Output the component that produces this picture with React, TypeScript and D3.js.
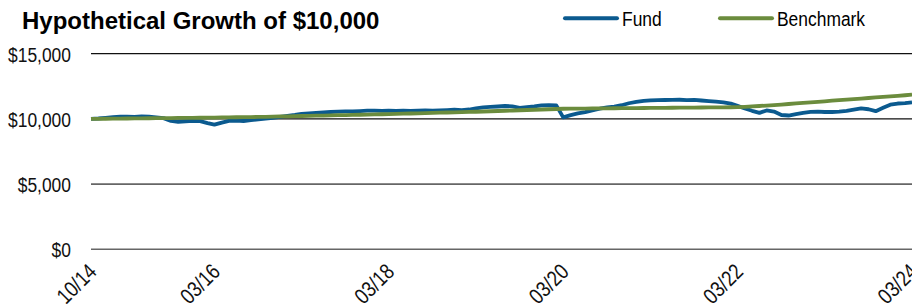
import React from 'react';
import * as d3 from 'd3';

// monthly, 10/14 .. 03/24
const startMonth = new Date(2014, 9, 1);
const endMonth = new Date(2024, 2, 1);

const fund = [
  10000, 10030, 10080, 10130, 10180, 10170, 10160, 10190, 10170, 10120,
  10060, 9850, 9780, 9820, 9850, 9830, 9680, 9560, 9720, 9850,
  9870, 9840, 9900, 9960, 10020, 10080, 10150, 10230, 10300, 10380,
  10420, 10460, 10500, 10530, 10560, 10580, 10570, 10600, 10630, 10640,
  10620, 10640, 10620, 10630, 10610, 10640, 10650, 10630, 10660, 10680,
  10700, 10680, 10720, 10800, 10880, 10920, 10950, 10990, 10960, 10850,
  10900, 10960, 11040, 11060, 11040, 10120, 10290, 10420, 10520, 10650,
  10780, 10880, 10950, 11050, 11200, 11300, 11380, 11420, 11440, 11450,
  11460, 11470, 11440, 11460, 11410, 11360, 11320, 11270, 11170, 11000,
  10800, 10620, 10460, 10650, 10560, 10300, 10260, 10370, 10460, 10540,
  10560, 10530, 10530, 10560, 10620, 10720, 10810, 10740, 10590, 10850,
  11090, 11180, 11210, 11270,
];

const benchmark = [
  10000, 10006, 10012, 10018, 10024, 10030, 10036, 10042, 10048, 10054,
  10060, 10066, 10072, 10078, 10084, 10090, 10097, 10104, 10111, 10118,
  10126, 10134, 10142, 10150, 10162, 10174, 10186, 10198, 10210, 10222,
  10234, 10246, 10258, 10270, 10282, 10294, 10306, 10318, 10330, 10343,
  10356, 10370, 10385, 10400, 10415, 10430, 10445, 10460, 10475, 10490,
  10505, 10520, 10535, 10550, 10569, 10588, 10607, 10626, 10645, 10664,
  10683, 10702, 10721, 10740, 10760, 10780, 10785, 10790, 10795, 10800,
  10805, 10810, 10815, 10820, 10825, 10830, 10835, 10840, 10845, 10850,
  10855, 10860, 10865, 10870, 10875, 10880, 10885, 10890, 10895, 10900,
  10925, 10955, 10990, 11025, 11060, 11100, 11142, 11184, 11226, 11268,
  11310, 11352, 11394, 11436, 11478, 11520, 11562, 11604, 11646, 11688,
  11730, 11772, 11814, 11856,
];

const yTicks = [0, 5000, 10000, 15000];
const xTickLabels = ['10/14', '03/16', '03/18', '03/20', '03/22', '03/24'];
const xTickDates = [
  new Date(2014, 9, 1), new Date(2016, 2, 1), new Date(2018, 2, 1),
  new Date(2020, 2, 1), new Date(2022, 2, 1), new Date(2024, 2, 1),
];

const seriesNames = ['Fund', 'Benchmark'];
const colors = ['#0b5a8f', '#6b8c3d'];

const W = 912;
const H = 304;
const font = '"Liberation Sans", Arial, sans-serif';
const narrow = 0.83;

export default function App() {
  const months = d3.timeMonth.range(startMonth, d3.timeMonth.offset(endMonth, 1));

  const x = d3.scaleTime().domain([startMonth, endMonth]).range([91, 912]);
  const y = d3.scaleLinear().domain([0, 15000]).range([249.3, 53.7]);

  const line = d3
    .line<number>()
    .x((_, i) => x(months[i]))
    .y(d => y(d));

  const fmt = (v: number) => '$' + d3.format(',')(v);

  return (
    <svg
      width={W}
      height={H}
      style={{ position: 'absolute', left: 0, top: 0, background: '#fff' }}
      fontFamily={font}
    >
      <text x={22} y={28.5} fontSize={24} fontWeight="bold" fill="#000">
        Hypothetical Growth of $10,000
      </text>

      {seriesNames.map((name, i) => {
        const lx = i === 0 ? 565 : 720;
        return (
          <g key={name}>
            <line
              x1={lx}
              x2={lx + 52}
              y1={18.3}
              y2={18.3}
              stroke={colors[i]}
              strokeWidth={4}
              strokeLinecap="round"
            />
            <g transform={`translate(${lx + 57},26) scale(${narrow},1)`}>
              <text fontSize={21} fill="#000">{name}</text>
            </g>
          </g>
        );
      })}

      {yTicks.map(t => (
        <g key={t}>
          <line
            x1={91}
            x2={912}
            y1={y(t)}
            y2={y(t)}
            stroke={t >= 10000 ? '#111' : '#666'}
            strokeWidth={t >= 10000 ? 1.2 : 1.6}
          />
          <g transform={`translate(71,${y(t) + 7.8}) scale(${narrow},1)`}>
            <text textAnchor="end" fontSize={21} fill="#111">{fmt(t)}</text>
          </g>
        </g>
      ))}

      {xTickDates.map((d, i) => (
        <g key={xTickLabels[i]} transform={`translate(${x(d) + 7},${273}) rotate(-45) scale(${narrow},1)`}>
          <text textAnchor="end" fontSize={22} fill="#111">{xTickLabels[i]}</text>
        </g>
      ))}

      <path d={line(fund) || ''} fill="none" stroke={colors[0]} strokeWidth={3.8} strokeLinejoin="round" />
      <path d={line(benchmark) || ''} fill="none" stroke={colors[1]} strokeWidth={3.8} strokeLinejoin="round" />
    </svg>
  );
}
